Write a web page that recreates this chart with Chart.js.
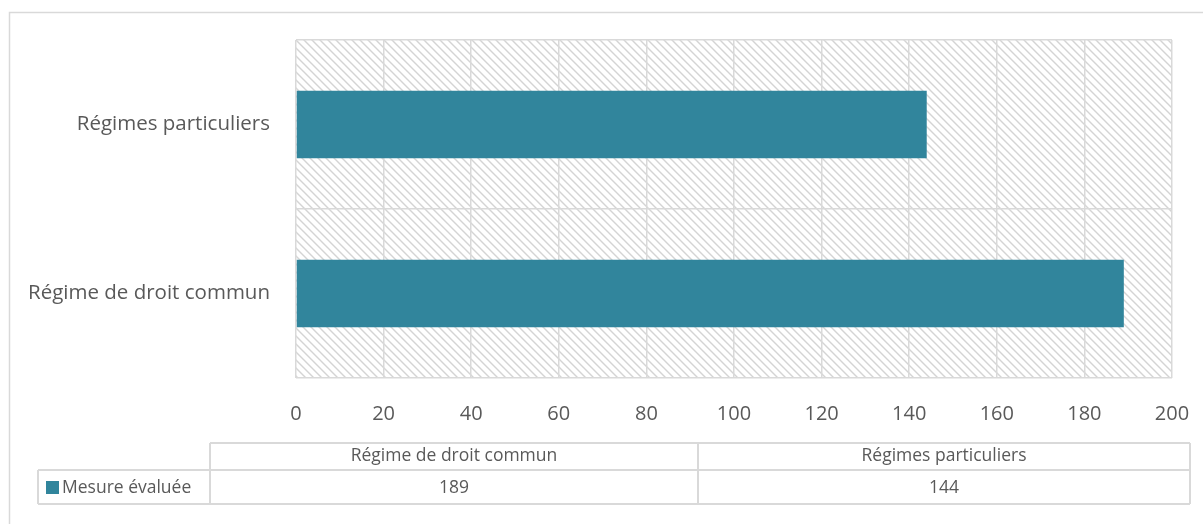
<!DOCTYPE html>
<html>
<head>
<meta charset="utf-8">
<script src="https://cdn.jsdelivr.net/npm/chart.js@4/dist/chart.umd.min.js"></script>
<style>
  body { margin: 0; background: #fff; }
  #wrap { width: 1203px; height: 524px; }
</style>
</head>
<body>
<div id="wrap"><canvas id="myChart" width="1203" height="524"></canvas></div>
<script>
// Data for chart
const categories = ['Régimes particuliers', 'Régime de droit commun'];
const seriesName = 'Mesure évaluée';
const seriesValues = [144, 189];
// table columns are shown in the other order (like the source)
const tableColumns = ['Régime de droit commun', 'Régimes particuliers'];
const tableValues = [189, 144];
const xTicks = [0, 20, 40, 60, 80, 100, 120, 140, 160, 180, 200];

const barColor = '#31859c';
const lineColor = '#d9d9d9';
const textColor = '#595959';
const fontFamily = "'Open Sans', 'Noto Sans', sans-serif";

// hatch pattern for the plot area
function makeHatch() {
  const c = document.createElement('canvas');
  c.width = 8; c.height = 8;
  const g = c.getContext('2d');
  g.fillStyle = '#fff';
  g.fillRect(0, 0, 8, 8);
  g.strokeStyle = '#d4d4d4';
  g.lineWidth = 1.4;
  g.beginPath();
  g.moveTo(-1, -1); g.lineTo(9, 9);
  g.moveTo(-1, 7); g.lineTo(1, 9);
  g.moveTo(7, -1); g.lineTo(9, 1);
  g.stroke();
  return g.createPattern(c, 'repeat');
}

const hatchPlugin = {
  id: 'hatch',
  beforeDraw(chart) {
    const ctx = chart.ctx;
    const a = chart.chartArea;
    ctx.save();
    // outer frame
    ctx.strokeStyle = lineColor;
    ctx.lineWidth = 1.5;
    ctx.strokeRect(9.5, 12.5, 1300, 600);
    ctx.fillStyle = makeHatch();
    ctx.fillRect(a.left, a.top, a.right - a.left, a.bottom - a.top);
    ctx.restore();
  }
};

// data table under the axis
const tablePlugin = {
  id: 'dataTable',
  afterDraw(chart) {
    const ctx = chart.ctx;
    const x0 = 38, x1 = 210, x2 = 698, x3 = 1190;
    const y0 = 443, y1 = 470, y2 = 504;
    const cols = [[x1, x2], [x2, x3]];
    ctx.save();
    ctx.strokeStyle = lineColor;
    ctx.lineWidth = 2;
    ctx.beginPath();
    ctx.moveTo(x1, y0); ctx.lineTo(x3, y0);
    ctx.moveTo(x0, y1); ctx.lineTo(x3, y1);
    ctx.moveTo(x0, y2); ctx.lineTo(x3, y2);
    ctx.moveTo(x0, y1); ctx.lineTo(x0, y2);
    ctx.moveTo(x1, y0); ctx.lineTo(x1, y2);
    ctx.moveTo(x2, y0); ctx.lineTo(x2, y2);
    ctx.moveTo(x3, y0); ctx.lineTo(x3, y2);
    ctx.stroke();

    ctx.fillStyle = textColor;
    ctx.font = '17.5px ' + fontFamily;
    ctx.textAlign = 'center';
    ctx.textBaseline = 'middle';
    tableColumns.forEach((name, i) => {
      const mid = (cols[i][0] + cols[i][1]) / 2;
      ctx.fillText(name, mid, (y0 + y1) / 2);
      ctx.fillText(String(tableValues[i]), mid, (y1 + y2) / 2 + 1);
    });
    // legend key
    ctx.fillStyle = barColor;
    ctx.fillRect(46, 481, 13, 13);
    ctx.fillStyle = textColor;
    ctx.textAlign = 'left';
    ctx.fillText(seriesName, 62, (y1 + y2) / 2 + 1);
    ctx.restore();
  }
};

const chartData = {
  labels: categories,
  datasets: [{
    label: seriesName,
    data: seriesValues,
    backgroundColor: barColor,
    categoryPercentage: 1,
    barPercentage: 0.4
  }]
};

const chartConfig = {
  type: 'bar',
  data: chartData,
  plugins: [hatchPlugin, tablePlugin],
  options: {
    indexAxis: 'y',
    responsive: false,
    animation: false,
    layout: { padding: { left: 0, top: 40, right: 31, bottom: 0 } },
    scales: {
      x: {
        min: 0,
        max: 200,
        afterBuildTicks(scale) {
          scale.ticks = xTicks.map(v => ({ value: v }));
        },
        afterFit(scale) {
          scale.height = 146;
          scale.paddingLeft = 0;
          scale.paddingRight = 0;
        },
        grid: { color: lineColor, lineWidth: 1.5, drawTicks: false },
        border: { display: false },
        ticks: {
          color: textColor,
          padding: 24,
          font: { family: fontFamily, size: 20 }
        }
      },
      y: {
        afterFit(scale) { scale.width = 296; },
        grid: { color: lineColor, lineWidth: 1.5, offset: true, drawTicks: false },
        border: { display: false },
        ticks: {
          color: textColor,
          padding: 26,
          font: { family: fontFamily, size: 20.5 }
        }
      }
    },
    plugins: {
      legend: { display: false },
      tooltip: { enabled: false }
    }
  }
};

// Initialize chart
const ctx = document.getElementById('myChart').getContext('2d');
const myChart = new Chart(ctx, chartConfig);
</script>
</body>
</html>
